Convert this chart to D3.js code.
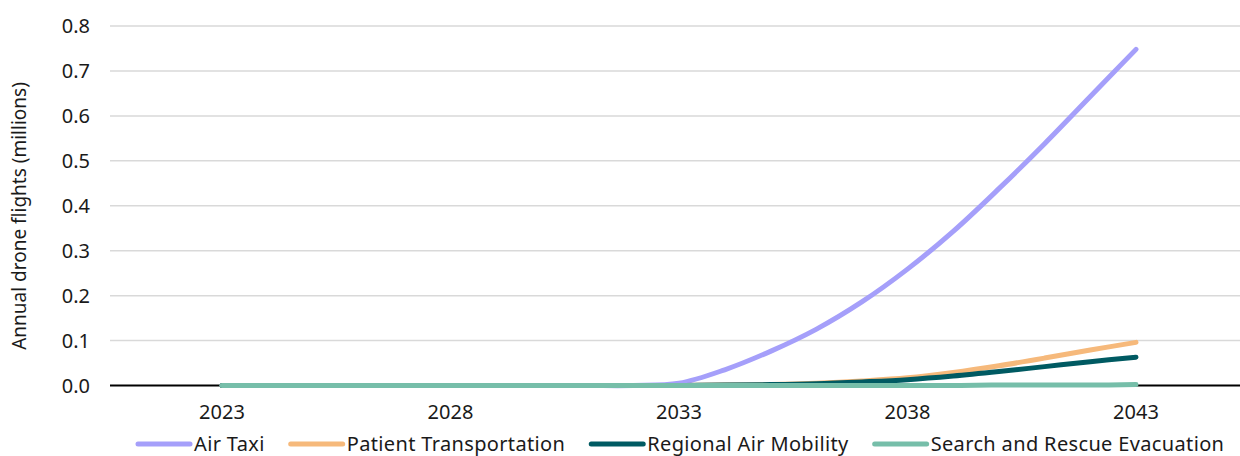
<!DOCTYPE html>
<html>
<head>
<meta charset="utf-8">
<script src="https://cdn.jsdelivr.net/npm/d3@7"></script>
<style>
  body { margin: 0; background: #fff; }
  svg text { font-family: "Noto Sans", "Open Sans", sans-serif; fill: #1a1a1a; }
</style>
</head>
<body>
<svg id="chart" width="1240" height="456"></svg>
<script>
// data (millions of flights per year)
const years = d3.range(2023, 2044);
const tickYears = [2023, 2028, 2033, 2038, 2043];
const yTicks = [0, 0.1, 0.2, 0.3, 0.4, 0.5, 0.6, 0.7, 0.8];

const airTaxi = [0, 0, 0, 0, 0, 0, 0, 0, 0, 0, 0.005, 0.035, 0.076, 0.125, 0.186, 0.259, 0.343, 0.438, 0.538, 0.643, 0.748];
const patientTransport = [0, 0, 0, 0, 0, 0, 0, 0, 0, 0, 0, 0.001, 0.002, 0.005, 0.01, 0.017, 0.029, 0.044, 0.061, 0.079, 0.096];
const regionalAir = [0, 0, 0, 0, 0, 0, 0, 0, 0, 0, 0, 0.001, 0.002, 0.004, 0.008, 0.013, 0.021, 0.031, 0.042, 0.053, 0.063];
const searchRescue = [0, 0, 0, 0, 0, 0, 0, 0, 0, 0, 0, 0, 0, 0, 0, 0, 0, 0.001, 0.001, 0.001, 0.002];

const seriesNames = ['Air Taxi', 'Patient Transportation', 'Regional Air Mobility', 'Search and Rescue Evacuation'];
const seriesValues = [airTaxi, patientTransport, regionalAir, searchRescue];
const colors = ['#a59ffa', '#f6b97b', '#005a62', '#76bea9'];

const svg = d3.select("#chart"),
    width = +svg.attr("width"),
    height = +svg.attr("height");

const plotLeft = 110, plotRight = width;

const x = d3.scaleLinear().domain([2023, 2043]).range([222, 1136]);
const y = d3.scaleLinear().domain([0, 0.8]).range([385.5, 26]);

// gridlines
svg.append("g")
  .selectAll("line")
  .data(yTicks.filter(d => d > 0))
  .enter().append("line")
    .attr("x1", plotLeft)
    .attr("x2", plotRight)
    .attr("y1", d => y(d))
    .attr("y2", d => y(d))
    .attr("stroke", "#d9d9d9")
    .attr("stroke-width", 1.5);

// y labels
svg.append("g")
  .selectAll("text")
  .data(yTicks)
  .enter().append("text")
    .attr("x", 90)
    .attr("y", d => y(d))
    .attr("dy", "0.35em")
    .attr("text-anchor", "end")
    .style("font-size", "20px")
    .text(d => d3.format(".1f")(d));

// y title
svg.append("text")
  .attr("transform", "translate(26,216) rotate(-90)")
  .attr("text-anchor", "middle")
  .style("font-size", "19px")
  .text("Annual drone flights (millions)");

// x axis line
svg.append("line")
  .attr("x1", plotLeft)
  .attr("x2", plotRight)
  .attr("y1", y(0))
  .attr("y2", y(0))
  .attr("stroke", "#000")
  .attr("stroke-width", 2);

// x labels
svg.append("g")
  .selectAll("text")
  .data(tickYears)
  .enter().append("text")
    .attr("x", d => x(d))
    .attr("y", 419)
    .attr("text-anchor", "middle")
    .style("font-size", "20px")
    .text(d => d);

// lines
const line = d3.line()
  .x((d, i) => x(years[i]))
  .y(d => y(Math.max(0, d)))
  .curve(d3.curveCatmullRom.alpha(0.5));

svg.append("g")
  .selectAll("path")
  .data(seriesValues)
  .enter().append("path")
    .attr("d", d => line(d))
    .attr("fill", "none")
    .attr("stroke", (d, i) => colors[i])
    .attr("stroke-width", 5)
    .attr("stroke-linecap", "round")
    .attr("stroke-linejoin", "round");

// legend
const legend = svg.append("g");
let lx = 138;
seriesNames.forEach(function(name, i) {
  legend.append("line")
    .attr("x1", lx)
    .attr("x2", lx + 52)
    .attr("y1", 444)
    .attr("y2", 444)
    .attr("stroke", colors[i])
    .attr("stroke-width", 5)
    .attr("stroke-linecap", "round");
  const t = legend.append("text")
    .attr("x", lx + 56)
    .attr("y", 444)
    .attr("dy", "0.35em")
    .style("font-size", "20px")
    .style("letter-spacing", "0.35px")
    .text(name);
  lx += 56 + t.node().getComputedTextLength() + 26;
});
</script>
</body>
</html>
